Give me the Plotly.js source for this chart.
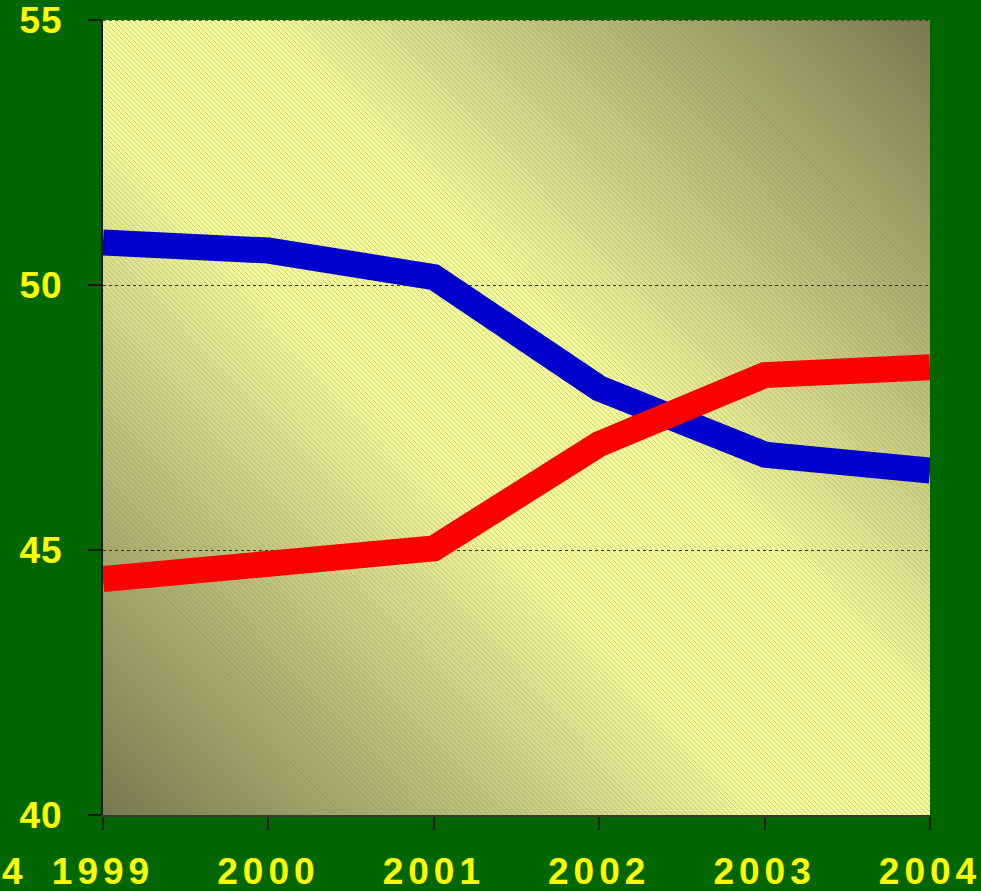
<!DOCTYPE html>
<html>
<head>
<meta charset="utf-8">
<script src="https://cdn.plot.ly/plotly-3.0.1.min.js"></script>
<style>
html,body{margin:0;padding:0;background:#006600;}
#chart{width:981px;height:891px;}
.xtick text{letter-spacing:5px;}
.ytick text{letter-spacing:1px;}
</style>
</head>
<body>
<div id="chart"></div>
<script>
// Data
var years = ['1999', '2000', '2001', '2002', '2003', '2004'];
var blueSeries = [50.8, 50.65, 50.15, 48.05, 46.8, 46.5];
var redSeries = [44.45, 44.68, 45.03, 47.0, 48.3, 48.45];
var yTicks = [40, 45, 50, 55];

// Background texture for the plot area (gradient + diagonal hatching)
function makeBg(w, h) {
  var c = document.createElement('canvas');
  c.width = w; c.height = h;
  var ctx = c.getContext('2d');
  var g = ctx.createLinearGradient(0, h, w, 0);
  g.addColorStop(0, '#7a7650');
  g.addColorStop(0.2, '#b5b377');
  g.addColorStop(0.42, '#f7f79c');
  g.addColorStop(0.58, '#f7f79c');
  g.addColorStop(0.8, '#b5b377');
  g.addColorStop(1, '#7a7650');
  ctx.fillStyle = g;
  ctx.fillRect(0, 0, w, h);
  ctx.strokeStyle = 'rgba(110,160,70,0.35)';
  ctx.lineWidth = 1;
  ctx.beginPath();
  for (var k = -h; k < w + h; k += 5) {
    ctx.moveTo(k, 0);
    ctx.lineTo(k + h, h);
  }
  ctx.stroke();
  return c.toDataURL('image/png');
}

var fontSpec = {family: 'Liberation Sans, Arial, sans-serif', size: 37, color: '#FFFF00', weight: 'bold'};

var traces = [
  {x: years, y: blueSeries, type: 'scatter', mode: 'lines',
   line: {color: '#0000CC', width: 26}, hoverinfo: 'skip', showlegend: false},
  {x: years, y: redSeries, type: 'scatter', mode: 'lines',
   line: {color: '#FF0000', width: 26}, hoverinfo: 'skip', showlegend: false}
];

var topTick = yTicks[yTicks.length - 1];

var layout = {
  width: 981, height: 891,
  margin: {l: 103, r: 51, t: 20, b: 76, pad: 0},
  paper_bgcolor: '#006600',
  plot_bgcolor: 'rgba(0,0,0,0)',
  showlegend: false,
  images: [{source: makeBg(827, 795), xref: 'paper', yref: 'paper', x: 0, y: 1,
            sizex: 1, sizey: 1, sizing: 'stretch', layer: 'below', xanchor: 'left', yanchor: 'top'}],
  shapes: [{type: 'line', xref: 'paper', yref: 'y', x0: 0, x1: 1, y0: topTick, y1: topTick,
            line: {color: '#333322', width: 1.5, dash: 'dot'}, layer: 'above'}],
  xaxis: {
    type: 'category', range: [0, 5], fixedrange: true,
    showgrid: false, zeroline: false,
    showline: true, linecolor: '#3a3a2a', linewidth: 2,
    ticks: 'outside', ticklen: 13, tickwidth: 2, tickcolor: '#1a1a1a',
    tickfont: fontSpec, ticklabelstandoff: 10, ticklabeloverflow: 'allow'
  },
  yaxis: {
    range: [40, 55], tickvals: yTicks, ticktext: yTicks.map(String), fixedrange: true,
    showgrid: true, gridcolor: '#333322', gridwidth: 1, griddash: 'dot',
    zeroline: false,
    showline: true, linecolor: '#1a1a1a', linewidth: 2,
    ticks: 'outside', ticklen: 13, tickwidth: 2, tickcolor: '#1a1a1a',
    tickfont: fontSpec, ticklabelstandoff: 18, ticklabeloverflow: 'allow'
  },
  annotations: [{
    text: '4', xref: 'paper', yref: 'paper', x: -0.1245, y: -0.0705,
    xanchor: 'left', yanchor: 'middle', showarrow: false, font: fontSpec
  }]
};

Plotly.newPlot('chart', traces, layout, {staticPlot: true, displayModeBar: false});
</script>
</body>
</html>
